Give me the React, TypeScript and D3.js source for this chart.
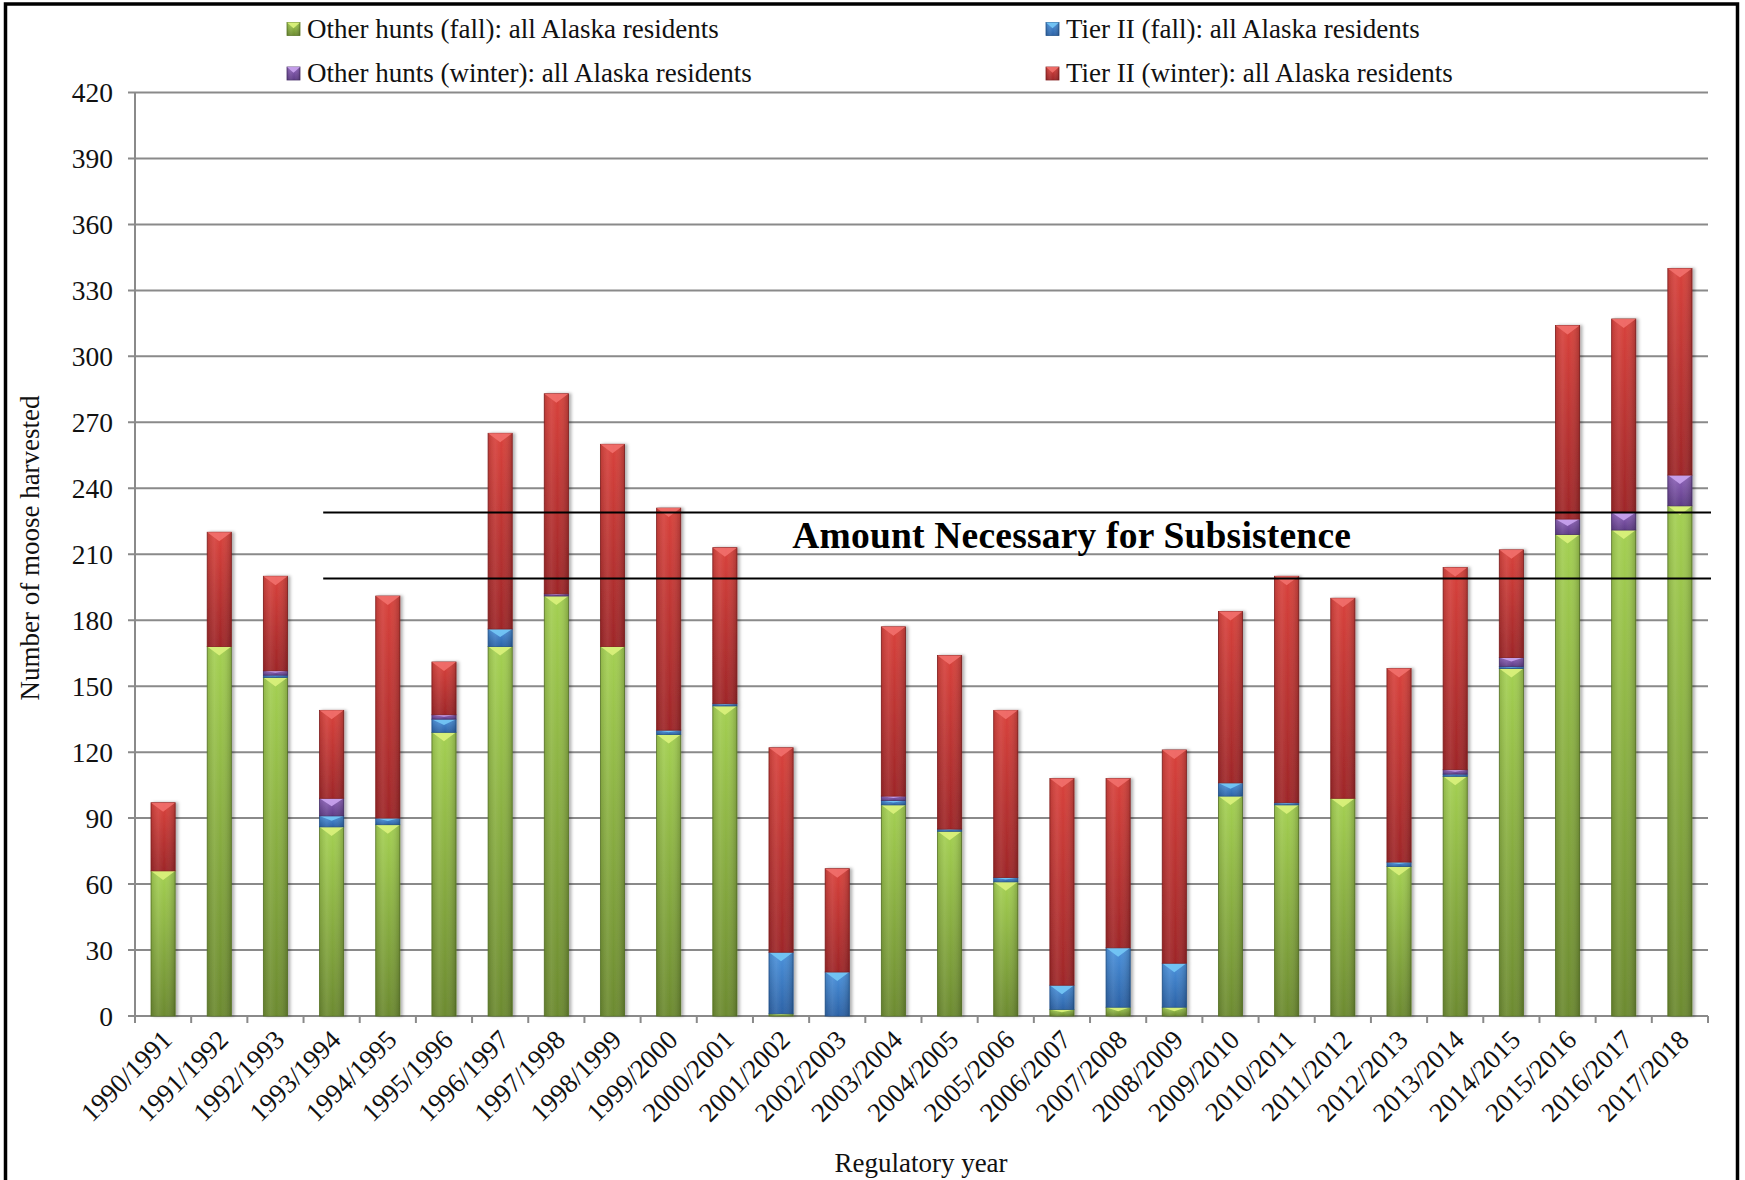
import React from 'react';
import * as d3 from 'd3';

const W = 1745;
const H = 1180;
const FONT = '"Liberation Serif", "Times New Roman", serif';

const years = [
  '1990/1991', '1991/1992', '1992/1993', '1993/1994', '1994/1995', '1995/1996', '1996/1997',
  '1997/1998', '1998/1999', '1999/2000', '2000/2001', '2001/2002', '2002/2003', '2003/2004',
  '2004/2005', '2005/2006', '2006/2007', '2007/2008', '2008/2009', '2009/2010', '2010/2011',
  '2011/2012', '2012/2013', '2013/2014', '2014/2015', '2015/2016', '2016/2017', '2017/2018',
];
const otherFall = [66, 168, 154, 86, 87, 129, 168, 191, 168, 128, 141, 1, 0, 96, 84, 61, 3, 4, 4, 100, 96, 99, 68, 109, 158, 219, 221, 232];
const tierFall = [0, 0, 1, 5, 3, 6, 8, 0, 0, 2, 1, 28, 20, 2, 1, 2, 11, 27, 20, 6, 1, 0, 2, 1, 1, 0, 0, 0];
const otherWinter = [0, 0, 2, 8, 0, 2, 0, 1, 0, 0, 0, 0, 0, 2, 0, 0, 0, 0, 0, 0, 0, 0, 0, 2, 4, 7, 8, 14];
const tierWinter = [31, 52, 43, 40, 101, 24, 89, 91, 92, 101, 71, 93, 47, 77, 79, 76, 94, 77, 97, 78, 103, 91, 88, 92, 49, 88, 88, 94];

const keys = ['otherFall', 'tierFall', 'otherWinter', 'tierWinter'];
const labels = [
  'Other hunts (fall): all Alaska residents',
  'Tier II (fall): all Alaska residents',
  'Other hunts (winter): all Alaska residents',
  'Tier II (winter): all Alaska residents',
];
const yTicks = [0, 30, 60, 90, 120, 150, 180, 210, 240, 270, 300, 330, 360, 390, 420];
const ansRange = [199, 229];
const ansLabel = 'Amount Necessary for Subsistence';

// top colour, bottom colour, bevel highlight, edge
const palette = {
  otherFall: ['#a4d052', '#6c8a30', '#dcf27c', '#5c7a28'],
  tierFall: ['#4b92dc', '#2c62a6', '#74c8f6', '#24558f'],
  otherWinter: ['#8f64bb', '#5e3c86', '#caa4f0', '#4a306c'],
  tierWinter: ['#d8423c', '#9e2628', '#f2706c', '#862020'],
};

const table = years.map((year, i) => ({
  year,
  otherFall: otherFall[i],
  tierFall: tierFall[i],
  otherWinter: otherWinter[i],
  tierWinter: tierWinter[i],
}));

const x = d3.scaleBand().domain(years).range([135, 1708]).padding(0);
const y = d3.scaleLinear().domain([0, 420]).range([1016, 92.5]);
const barW = x.bandwidth() * 0.43;
const stacked = d3.stack().keys(keys)(table as any);

const legendPos = [
  [287, 29],
  [1046, 29],
  [287, 73.5],
  [1046, 73.5],
];

function Segment({ k, x0, top, w, h }) {
  if (h <= 0.2) return null;
  const c = palette[k];
  const d = Math.min(9, h * 0.45);
  return (
    <g>
      <rect x={x0} y={top} width={w} height={h} fill={`url(#v-${k})`} stroke={c[3]} strokeWidth={0.8} />
      <rect x={x0} y={top} width={w} height={h} fill="url(#hshade)" />
      <polygon points={`${x0},${top} ${x0 + w},${top} ${x0 + w / 2},${top + d}`} fill={c[2]} opacity={0.9} />
    </g>
  );
}

export default function App() {
  return (
    <svg
      width={W}
      height={H}
      style={{ position: 'absolute', left: 0, top: 0, background: '#fff' }}
      fontFamily={FONT}
    >
      <defs>
        {keys.map(k => (
          <linearGradient key={k} id={`v-${k}`} x1="0" y1="0" x2="0" y2="1">
            <stop offset="0" stopColor={palette[k][0]} />
            <stop offset="1" stopColor={palette[k][1]} />
          </linearGradient>
        ))}
        <linearGradient id="hshade" x1="0" y1="0" x2="1" y2="0">
          <stop offset="0" stopColor="#000" stopOpacity="0.12" />
          <stop offset="0.3" stopColor="#fff" stopOpacity="0.08" />
          <stop offset="0.55" stopColor="#fff" stopOpacity="0" />
          <stop offset="1" stopColor="#000" stopOpacity="0.2" />
        </linearGradient>
        <filter id="shadow" x="-20%" y="-5%" width="150%" height="110%">
          <feDropShadow dx="2.5" dy="0" stdDeviation="1.5" floodColor="#000" floodOpacity="0.3" />
        </filter>
      </defs>

      <rect x={0} y={0} width={W} height={H} fill="#fff" />
      <rect x={5.5} y={4} width={1732} height={1240} fill="none" stroke="#000" strokeWidth={3.5} />

      {/* legend */}
      {labels.map((lab, i) => {
        const [lx, ly] = legendPos[i];
        const k = keys[i];
        return (
          <g key={lab}>
            <Segment k={k} x0={lx} top={ly - 6.5} w={13} h={13} />
            <text x={lx + 20} y={ly} dy="0.33em" fontSize={27} fill="#111">
              {lab}
            </text>
          </g>
        );
      })}

      {/* grid + y axis */}
      {yTicks.map(t => (
        <g key={t}>
          <line x1={128} x2={1708} y1={y(t)} y2={y(t)} stroke="#8a8a8a" strokeWidth={2} />
          <text x={113} y={y(t)} dy="0.35em" textAnchor="end" fontSize={27.5} fill="#111">
            {t}
          </text>
        </g>
      ))}
      <line x1={135} x2={135} y1={y(420)} y2={y(0)} stroke="#8a8a8a" strokeWidth={2} />

      {/* x ticks */}
      {years.map(yr => (
        <line key={yr} x1={x(yr)} x2={x(yr)} y1={y(0)} y2={y(0) + 7} stroke="#8a8a8a" strokeWidth={2} />
      ))}
      <line x1={1708} x2={1708} y1={y(0)} y2={y(0) + 7} stroke="#8a8a8a" strokeWidth={2} />

      {/* bars */}
      {years.map((yr, i) => (
        <g key={yr} filter="url(#shadow)">
          {stacked.map(s => {
            const d = s[i];
            const top = y(d[1]);
            const h = y(d[0]) - y(d[1]);
            return (
              <Segment key={s.key} k={s.key} x0={x(yr) + (x.bandwidth() - barW) / 2} top={top} w={barW} h={h} />
            );
          })}
        </g>
      ))}

      {/* amount necessary for subsistence */}
      {ansRange.map(v => (
        <line
          key={v}
          x1={x('1993/1994') + x.bandwidth() * 0.35}
          x2={1711}
          y1={y(v)}
          y2={y(v)}
          stroke="#000"
          strokeWidth={2}
        />
      ))}
      <text
        x={x('2001/2002') + x.bandwidth() * 0.7}
        y={y((ansRange[0] + ansRange[1]) / 2) + 3}
        fontSize={37.5}
        fontWeight="bold"
        letterSpacing={0.2}
        fill="#000"
      >
        {ansLabel}
      </text>

      {/* x labels */}
      {years.map(yr => {
        const cx = x(yr) + x.bandwidth() / 2 - 3;
        const cy = y(0) + 12;
        return (
          <text
            key={yr}
            transform={`translate(${cx},${cy}) rotate(-45)`}
            textAnchor="end"
            dy="0.71em"
            fontSize={27}
            fill="#111"
          >
            {yr}
          </text>
        );
      })}

      <text x={921} y={1172} textAnchor="middle" fontSize={27} fill="#111">
        Regulatory year
      </text>
      <text
        transform={`translate(30,${548}) rotate(-90)`}
        textAnchor="middle"
        dy="0.33em"
        fontSize={27}
        fill="#111"
      >
        Number of moose harvested
      </text>
    </svg>
  );
}
